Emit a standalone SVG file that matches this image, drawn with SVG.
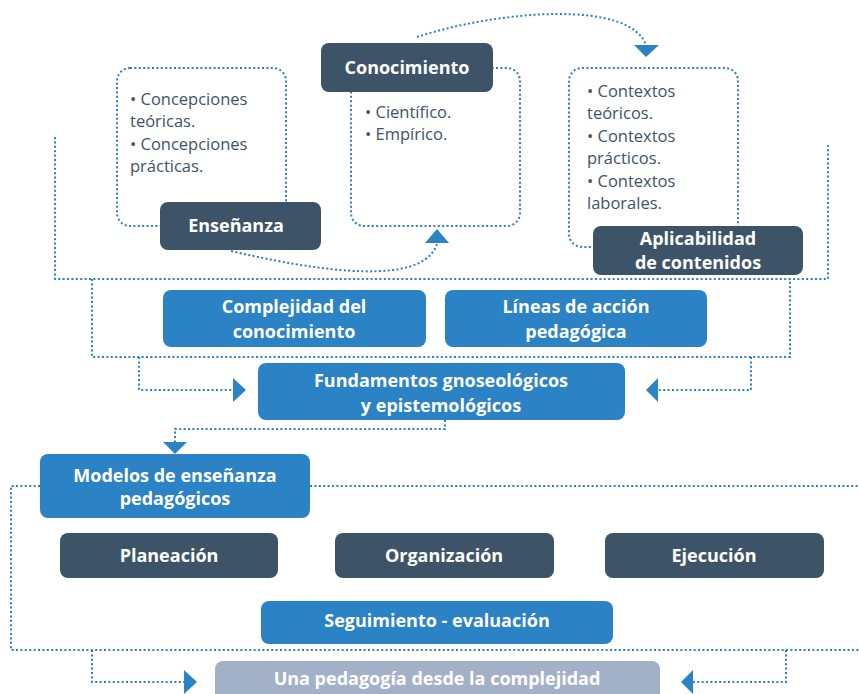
<svg xmlns="http://www.w3.org/2000/svg" width="859" height="694" viewBox="0 0 859 694">
<style>
.dot{fill:none;stroke:#2b7fc3;stroke-width:2;stroke-dasharray:2 2.4}
.ah{fill:#2b82c5}
.dk{fill:#3d5468}
.bl{fill:#2b82c5}
.lt{fill:#a3b1c8}
.t{font-family:"Open Sans","Noto Sans",sans-serif;font-weight:bold;font-size:18px;fill:#fff;text-anchor:middle}
.b{font-family:"Open Sans","Noto Sans",sans-serif;font-size:16.5px;fill:#3d5468}
</style>
<rect width="859" height="694" fill="#fff"/>
<g id="connectors">
<rect class="dot" x="117" y="68" width="169" height="158" rx="13"/>
<rect class="dot" x="351" y="68" width="169" height="158" rx="13"/>
<rect class="dot" x="569" y="68" width="169" height="179" rx="13"/>
<path class="dot" d="M231 251 Q420 295 437 244"/>
<polygon class="ah" points="437,229 449,243 425,243"/>
<path class="dot" d="M417 37 C500 10 630 0 646 45"/>
<polygon class="ah" points="634,45 659,45 646,57"/>
<path class="dot" d="M55 137 V279 H828 V145"/>
<path class="dot" d="M92 279 V357 H790 V279"/>
<path class="dot" d="M139 357 V390 H233"/>
<polygon class="ah" points="233,378 246,390 233,402"/>
<path class="dot" d="M751 357 V390 H658"/>
<polygon class="ah" points="658,378 646,390 658,402"/>
<path class="dot" d="M445 420 V429 H175 V442"/>
<polygon class="ah" points="163,442 187,442 175,454"/>
<path class="dot" d="M40 486 H11 V650 H859"/>
<path class="dot" d="M310 486 H859"/>
<path class="dot" d="M92 650 V682 H184"/>
<polygon class="ah" points="184,670 197,682 184,694"/>
<path class="dot" d="M786 650 V682 H693"/>
<polygon class="ah" points="693,670 681,682 693,694"/>
</g>
<g id="ensenanza-list">
<text class="b" x="130" y="105">• Concepciones</text>
<text class="b" x="130" y="127">teóricas.</text>
<text class="b" x="130" y="150">• Concepciones</text>
<text class="b" x="130" y="172">prácticas.</text>
</g>
<g id="conocimiento-list">
<text class="b" x="365" y="118">• Científico.</text>
<text class="b" x="365" y="140">• Empírico.</text>
</g>
<g id="contextos-list">
<text class="b" x="587" y="97">• Contextos</text>
<text class="b" x="587" y="119">teóricos.</text>
<text class="b" x="587" y="142">• Contextos</text>
<text class="b" x="587" y="164">prácticos.</text>
<text class="b" x="587" y="187">• Contextos</text>
<text class="b" x="587" y="209">laborales.</text>
</g>
<g id="ensenanza"><rect class="dk" x="160" y="202" width="161" height="48" rx="8"/><text class="t" x="236" y="232">Enseñanza</text></g>
<g id="conocimiento"><rect class="dk" x="321" y="43" width="172" height="49" rx="8"/><text class="t" x="407" y="74">Conocimiento</text></g>
<g id="aplicabilidad"><rect class="dk" x="593" y="226" width="210" height="49" rx="8"/><text class="t" x="698" y="245">Aplicabilidad</text><text class="t" x="698" y="269">de contenidos</text></g>
<g id="complejidad"><rect class="bl" x="163" y="290" width="263" height="57" rx="8"/><text class="t" x="294" y="313">Complejidad del</text><text class="t" x="294" y="338">conocimiento</text></g>
<g id="lineas"><rect class="bl" x="445" y="290" width="262" height="57" rx="8"/><text class="t" x="576" y="313">Líneas de acción</text><text class="t" x="576" y="338">pedagógica</text></g>
<g id="fundamentos"><rect class="bl" x="258" y="363" width="367" height="57" rx="8"/><text class="t" x="441" y="387">Fundamentos gnoseológicos</text><text class="t" x="441" y="412">y epistemológicos</text></g>
<g id="modelos"><rect class="bl" x="40" y="454" width="270" height="64" rx="8"/><text class="t" x="175" y="482">Modelos de enseñanza</text><text class="t" x="175" y="505">pedagógicos</text></g>
<g id="planeacion"><rect class="dk" x="60" y="533" width="218" height="45" rx="8"/><text class="t" x="169" y="562">Planeación</text></g>
<g id="organizacion"><rect class="dk" x="335" y="533" width="219" height="45" rx="8"/><text class="t" x="444" y="562">Organización</text></g>
<g id="ejecucion"><rect class="dk" x="605" y="533" width="219" height="45" rx="8"/><text class="t" x="714" y="562">Ejecución</text></g>
<g id="seguimiento"><rect class="bl" x="261" y="601" width="352" height="43" rx="8"/><text class="t" x="437" y="627">Seguimiento - evaluación</text></g>
<g id="pedagogia"><rect class="lt" x="215" y="661" width="445" height="45" rx="8"/><text class="t" x="437" y="685">Una pedagogía desde la complejidad</text></g>
</svg>
